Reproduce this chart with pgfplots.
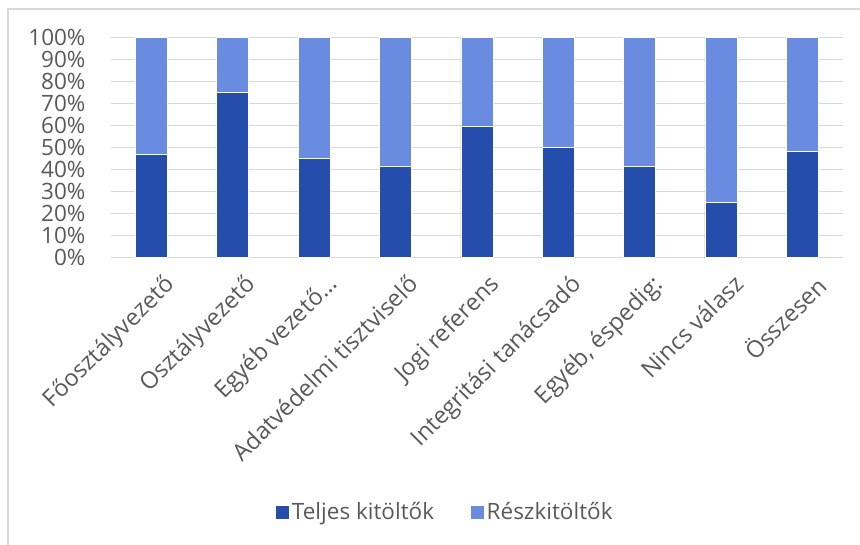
\documentclass[border=0pt]{standalone}
\usepackage{fontspec}
\setmainfont{Open Sans}
\usepackage{pgfplots}
\pgfplotsset{compat=1.18}
\definecolor{darkb}{HTML}{244DAC}
\definecolor{lightb}{HTML}{6A8CE0}
\definecolor{txt}{HTML}{595959}
\definecolor{gridc}{HTML}{D9D9D9}
\begin{document}
\begin{tikzpicture}[x=1pt,y=1pt]
\path[use as bounding box] (0,0) rectangle (860,545);
\draw[gridc, line width=1.5pt] (8,0) -- (8,536) -- (860,536);
\begin{axis}[
  at={(110.7pt,287.7pt)}, anchor=south west,
  scale only axis, width=732.3pt, height=219.6pt,
  ybar stacked, bar width=32pt,
  xmin=-0.5, xmax=8.5, ymin=0, ymax=100,
  ytick={0,10,20,30,40,50,60,70,80,90,100},
  yticklabels={0\%,10\%,20\%,30\%,40\%,50\%,60\%,70\%,80\%,90\%,100\%},
  xtick={0,1,2,3,4,5,6,7,8},
  xticklabels={Főosztályvezető,Osztályvezető,Egyéb vezető…,Adatvédelmi tisztviselő,Jogi referens,Integritási tanácsadó,{Egyéb, éspedig:},Nincs válasz,Összesen},
  axis line style={draw=none},
  major tick length=0pt,
  ymajorgrids, grid style={gridc, line width=1.5pt},
  yticklabel style={font=\fontsize{22.5}{26}\selectfont, text=txt, anchor=east, inner sep=0pt, xshift=-25pt},
  xticklabel style={font=\fontsize{23.5}{27}\selectfont, text=txt, rotate=45, anchor=north east, inner sep=0pt, xshift=-3pt, yshift=-19pt},
  legend style={at={(0.4565,-1.16)}, anchor=center, draw=none, fill=none, legend columns=2,
     font=\fontsize{22.5}{26}\selectfont, text=txt,
     /tikz/every even column/.append style={column sep=34pt}},
  legend image code/.code={\fill[#1] (0pt,-7pt) rectangle (14pt,7pt);},
]
\addplot[fill=darkb, draw=white, line width=0.6pt] coordinates {(0,46.7) (1,75.1) (2,45.1) (3,41.6) (4,59.8) (5,49.9) (6,41.3) (7,24.9) (8,48.1)};
\addplot[fill=lightb, draw=white, line width=0.6pt] coordinates {(0,53.3) (1,24.9) (2,54.9) (3,58.4) (4,40.2) (5,50.1) (6,58.7) (7,75.1) (8,51.9)};
\legend{Teljes kitöltők, Részkitöltők}
\end{axis}
\end{tikzpicture}
\end{document}
